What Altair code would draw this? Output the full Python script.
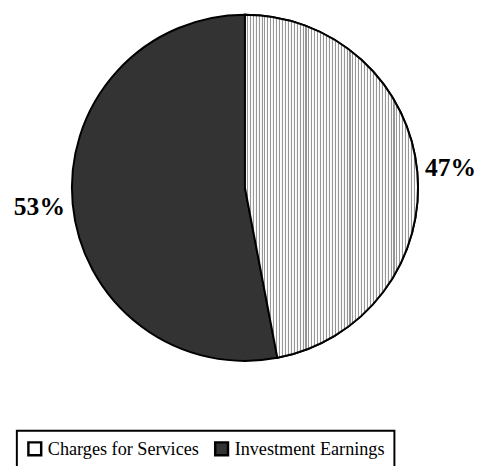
import altair as alt
import pandas as pd

categories = ["Charges for Services", "Investment Earnings"]
shares = [47, 53]

df = pd.DataFrame({"category": categories, "value": shares})

CX, CY = 241, 179
R = 176

# striped fill to imitate the vertical line pattern
n = 59
stops = []
for i in range(n):
    a = i / n
    b = (i + 0.64) / n
    c = (i + 1) / n
    stops += [
        alt.GradientStop(offset=a, color="#ffffff"),
        alt.GradientStop(offset=b, color="#f4f4f4"),
        alt.GradientStop(offset=b, color="#969696"),
        alt.GradientStop(offset=c, color="#969696"),
    ]
stripes = alt.LinearGradient(gradient="linear", stops=stops, x1=0, x2=1, y1=0, y2=0)

theta = alt.Theta("value:Q", stack=True, scale=alt.Scale(domain=[0, 100]))
order = alt.Order("category:N")

base = alt.Chart(df)

pie = base.mark_arc(radius=R, stroke="black", strokeWidth=2).encode(
    theta=theta,
    order=order,
    x=alt.value(CX),
    y=alt.value(CY),
    color=alt.Color(
        "category:N",
        scale=alt.Scale(domain=categories, range=["#ffffff", "#333333"]),
        legend=alt.Legend(
            title=None,
            orient="none",
            legendX=9,
            legendY=426,
            direction="horizontal",
            symbolType="square",
            symbolSize=169,
            symbolStrokeColor="black",
            symbolStrokeWidth=2.5,
            labelFont="Liberation Serif",
            labelFontSize=18.5,
            labelColor="black",
            labelOffset=4,
            labelLimit=400,
            columnPadding=10,
            padding=9,
            strokeColor="black",
        ),
    ),
)

striped = base.transform_filter(
    alt.datum.category == categories[0]
).mark_arc(radius=R, fill=stripes, stroke="black", strokeWidth=2).encode(
    theta=theta,
    order=order,
    x=alt.value(CX),
    y=alt.value(CY),
)

labels = base.transform_calculate(
    label="format(datum.value, 'd') + '%'"
).mark_text(
    radius=210,
    font="Liberation Serif",
    fontSize=26,
    fontWeight="bold",
    color="black",
    align="center",
    baseline="middle",
).encode(
    theta=theta,
    order=order,
    detail="category:N",
    text="label:N",
    x=alt.value(CX),
    y=alt.value(CY),
)

chart = alt.layer(pie, striped, labels).properties(
    width=477,
    height=458,
    autosize=alt.AutoSizeParams(type="none"),
    padding=0,
).configure_view(stroke=None).configure_legend(strokeWidth=2)

chart.save("out.html", embed_options={"renderer": "svg", "actions": False})
